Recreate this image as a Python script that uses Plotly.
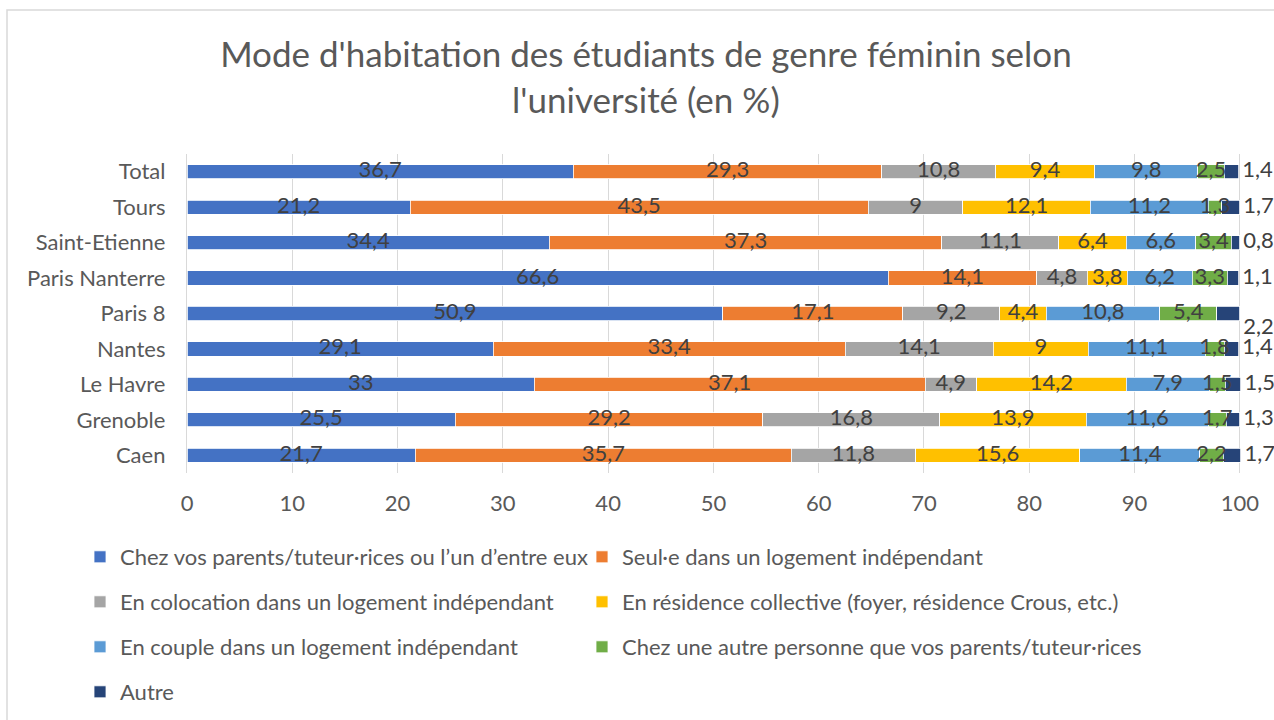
import plotly.graph_objects as go

universites = ["Caen", "Grenoble", "Le Havre", "Nantes", "Paris 8",
               "Paris Nanterre", "Saint-Etienne", "Tours", "Total"]

series_names = [
    "Chez vos parents/tuteur·rices ou l’un d’entre eux",
    "Seul·e dans un logement indépendant",
    "En colocation dans un logement indépendant",
    "En résidence collective (foyer, résidence Crous, etc.)",
    "En couple dans un logement indépendant",
    "Chez une autre personne que vos parents/tuteur·rices",
    "Autre",
]

parents    = [21.7, 25.5, 33.0, 29.1, 50.9, 66.6, 34.4, 21.2, 36.7]
seul       = [35.7, 29.2, 37.1, 33.4, 17.1, 14.1, 37.3, 43.5, 29.3]
colocation = [11.8, 16.8, 4.9, 14.1, 9.2, 4.8, 11.1, 9.0, 10.8]
residence  = [15.6, 13.9, 14.2, 9.0, 4.4, 3.8, 6.4, 12.1, 9.4]
couple     = [11.4, 11.6, 7.9, 11.1, 10.8, 6.2, 6.6, 11.2, 9.8]
autre_pers = [2.2, 1.7, 1.5, 1.8, 5.4, 3.3, 3.4, 1.3, 2.5]
autre      = [1.7, 1.3, 1.5, 1.4, 2.2, 1.1, 0.8, 1.7, 1.4]

x_ticks = [0, 10, 20, 30, 40, 50, 60, 70, 80, 90, 100]

all_series = [parents, seul, colocation, residence, couple, autre_pers, autre]
colors = ["#4472C4", "#ED7D31", "#A5A5A5", "#FFC000", "#5B9BD5", "#70AD47", "#264478"]

# Excel placed the outside "Autre" label of Paris 8 slightly lower
autre_label_pos = ["middle right", "middle right", "middle right", "middle right",
                   "bottom right", "middle right", "middle right", "middle right",
                   "middle right"]

FONT = "Lato, Calibri, sans-serif"
TXT = "#404040"
AX = "#595959"
FS = 22

X_MAX = 100.3  # a hair beyond 100 so that totals of 100,1 still get their label


def fmt(v):
    s = ("%.1f" % v).rstrip("0").rstrip(".")
    return s.replace(".", ",")


W, H = 1274, 720
L, T, B = 187, 154, 247
R = int(round(W - L - (1240 - L) * X_MAX / 100))
ph = H - T - B
pw = W - L - R


def ypaper(px):
    return (H - B - px) / ph


def xpaper(px):
    return (px - L) / pw


# legend grid: two columns, four rows
legend_rows = [557, 557, 602, 602, 647, 647, 692]
legend_cols = [80, 582, 80, 582, 80, 582, 80]

fig = go.Figure()
legends = {}
for k, (name, vals, col) in enumerate(zip(series_names, all_series, colors)):
    lid = "legend" if k == 0 else "legend%d" % (k + 1)
    fig.add_trace(go.Bar(
        y=universites, x=vals, name=name, orientation="h",
        marker=dict(color=col, line=dict(color="white", width=0.8)),
        legend=lid,
        hoverinfo="x+y+name",
    ))
    legends[lid] = dict(
        orientation="h", xanchor="left", yanchor="middle",
        x=xpaper(legend_cols[k]), y=ypaper(legend_rows[k]),
        font=dict(family=FONT, size=FS, color=AX), bgcolor="rgba(0,0,0,0)",
    )

# data labels drawn on top of all bars (Excel-like)
cum = [0.0] * len(universites)
for k, vals in enumerate(all_series):
    last = k == len(all_series) - 1
    xs = []
    for i, v in enumerate(vals):
        xs.append(cum[i] + v if last else cum[i] + v / 2)
        cum[i] += v
    fig.add_trace(go.Scatter(
        x=xs, y=universites,
        mode="markers+text" if last else "text",
        marker=dict(size=4, color="rgba(0,0,0,0)"),
        text=[fmt(v) for v in vals],
        textposition=autre_label_pos if last else "middle center",
        textfont=dict(family=FONT, size=FS, color=TXT),
        cliponaxis=False, showlegend=False, hoverinfo="skip",
    ))

fig.update_layout(
    width=W, height=H,
    barmode="stack", bargap=0.6,
    plot_bgcolor="white", paper_bgcolor="white",
    margin=dict(l=L, r=R, t=T, b=B, autoexpand=False),
    font=dict(family=FONT, color=AX),
    title=dict(
        text="Mode d'habitation des étudiants de genre féminin selon<br>l'université (en %)",
        x=0.507, xanchor="center", y=1 - 67 / H, yanchor="middle",
        font=dict(family=FONT, size=35, color=AX),
    ),
    xaxis=dict(
        range=[0, X_MAX], tickvals=x_ticks, ticktext=[str(t) for t in x_ticks],
        showgrid=True, gridcolor="#D9D9D9", gridwidth=1.3, zeroline=False,
        tickfont=dict(family=FONT, size=FS, color=AX),
        ticks="outside", ticklen=11, tickcolor="rgba(0,0,0,0)",
        showline=False, fixedrange=True,
    ),
    yaxis=dict(
        categoryorder="array", categoryarray=universites,
        range=[-0.5, len(universites) - 0.5],
        tickfont=dict(family=FONT, size=FS, color=AX),
        showline=True, linecolor="#D9D9D9", linewidth=1.3,
        ticks="outside", ticklen=16, tickcolor="rgba(0,0,0,0)",
        showgrid=False, fixedrange=True,
    ),
    shapes=[dict(
        type="rect", xref="paper", yref="paper",
        x0=xpaper(7), x1=xpaper(1290),
        y0=ypaper(740), y1=ypaper(10),
        line=dict(color="#D9D9D9", width=1.5), fillcolor="rgba(0,0,0,0)",
        layer="below",
    )],
    **legends,
)

fig.write_html(
    "out.html",
    config={"displayModeBar": False},
    post_script="document.body.style.margin='0';document.body.style.overflow='hidden';",
)
